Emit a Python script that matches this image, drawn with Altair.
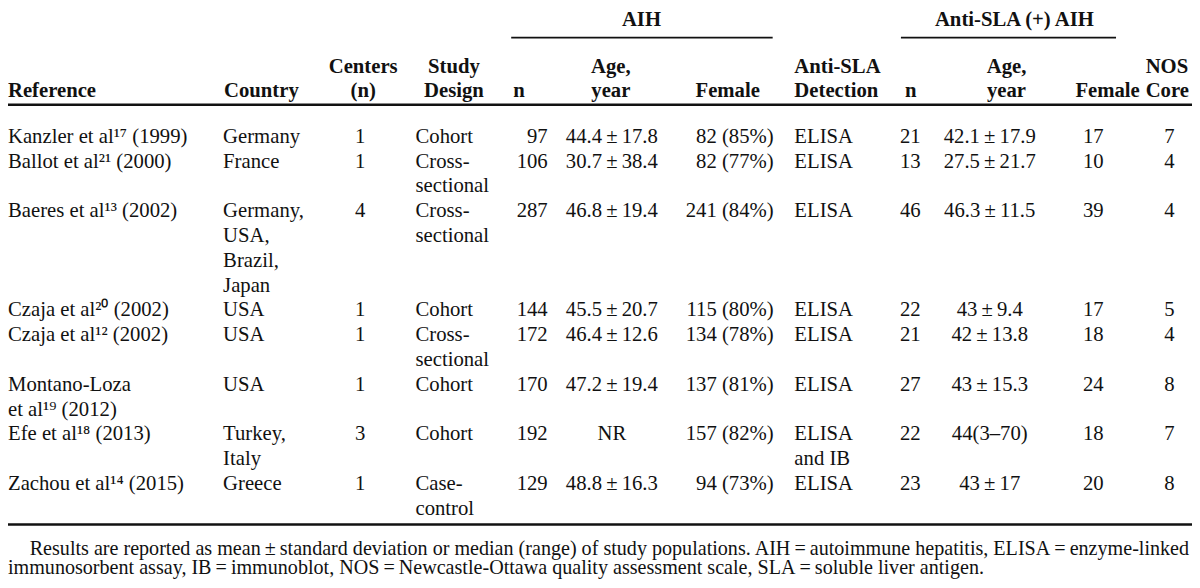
import altair as alt
import pandas as pd

references = [
    "Kanzler et al\u00b9\u2077 (1999)",
    "Ballot et al\u00b2\u00b9 (2000)",
    "Baeres et al\u00b9\u00b3 (2002)",
    "Czaja et al\u00b2\u2070 (2002)",
    "Czaja et al\u00b9\u00b2 (2002)",
    "Montano-Loza\net al\u00b9\u2079 (2012)",
    "Efe et al\u00b9\u2078 (2013)",
    "Zachou et al\u00b9\u2074 (2015)",
]
countries = ["Germany", "France", "Germany,\nUSA,\nBrazil,\nJapan", "USA", "USA",
             "USA", "Turkey,\nItaly", "Greece"]
centers = ["1", "1", "4", "1", "1", "1", "3", "1"]
designs = ["Cohort", "Cross-\nsectional", "Cross-\nsectional", "Cohort",
           "Cross-\nsectional", "Cohort", "Cohort", "Case-\ncontrol"]
aih_n = ["97", "106", "287", "144", "172", "170", "192", "129"]
aih_age = ["44.4\u2009\u00b1\u200917.8", "30.7\u2009\u00b1\u200938.4", "46.8\u2009\u00b1\u200919.4",
           "45.5\u2009\u00b1\u200920.7", "46.4\u2009\u00b1\u200912.6", "47.2\u2009\u00b1\u200919.4",
           "NR", "48.8\u2009\u00b1\u200916.3"]
aih_female = ["82 (85%)", "82 (77%)", "241 (84%)", "115 (80%)", "134 (78%)",
              "137 (81%)", "157 (82%)", "94 (73%)"]
detection = ["ELISA", "ELISA", "ELISA", "ELISA", "ELISA", "ELISA", "ELISA\nand IB", "ELISA"]
sla_n = ["21", "13", "46", "22", "21", "27", "22", "23"]
sla_age = ["42.1\u2009\u00b1\u200917.9", "27.5\u2009\u00b1\u200921.7", "46.3\u2009\u00b1\u200911.5",
           "43\u2009\u00b1\u20099.4", "42\u2009\u00b1\u200913.8", "43\u2009\u00b1\u200915.3",
           "44(3\u201370)", "43\u2009\u00b1\u200917"]
sla_female = ["17", "10", "39", "17", "18", "24", "18", "20"]
nos_core = ["7", "4", "4", "5", "4", "8", "7", "8"]

header_labels = ["\nReference", "\nCountry", "Centers\n(n)", "Study\nDesign", "\nn",
                 "Age,\nyear", "\nFemale", "Anti-SLA\nDetection", "\nn", "Age,\nyear",
                 "\nFemale", "NOS\nCore"]
spanner_labels = ["AIH", "Anti-SLA (+) AIH"]

footnote_lines = [
    "Results are reported as mean\u2009\u00b1\u2009standard deviation or median (range) of study "
    "populations. AIH\u2009=\u2009autoimmune hepatitis, ELISA\u2009=\u2009enzyme-linked",
    "immunosorbent assay, IB\u2009=\u2009immunoblot, NOS\u2009=\u2009Newcastle-Ottawa quality "
    "assessment scale, SLA\u2009=\u2009soluble liver antigen.",
]

# ---------------- layout (reference pixel frame 1200 x 588) ----------------
REF_W, REF_H = 1200, 588
FONT = "Liberation Serif"
FS = 20.7
FS_FOOT = 20.1
PITCH = 25.5
BODY_Y0 = 138.5
HEAD_Y = [66.5, 91.5]
SPAN_Y = 18

body_cols = [  # values, x anchor, align
    (references, 0, "left"),
    (countries, 218, "left"),
    (centers, 357, "center"),
    (designs, 413, "left"),
    (aih_n, 547, "right"),
    (aih_age, 612, "center"),
    (aih_female, 776, "right"),
    (detection, 797, "left"),
    (sla_n, 925, "right"),
    (sla_age, 995, "center"),
    (sla_female, 1100, "center"),
    (nos_core, 1177, "center"),
]
head_pos = [(0, "left"), (219, "left"), (360, "center"), (452, "center"), (518, "center"),
            (611, "center"), (762, "right"), (797, "left"), (915, "center"), (1012, "center"),
            (1147, "right"), (1153, "left")]
span_pos = [642, 1020]

# line index where each study row starts
starts, cur = [], 0
for i in range(len(references)):
    starts.append(cur)
    cur += max(len(str(col[0][i]).split("\n")) for col in body_cols)

body_recs = []
for vals, x, align in body_cols:
    for i, v in enumerate(vals):
        for j, line in enumerate(str(v).split("\n")):
            body_recs.append({"x": x, "y": BODY_Y0 + (starts[i] + j) * PITCH,
                              "text": line, "align": align})
body = pd.DataFrame(body_recs)

head_recs = []
for lab, (x, align) in zip(header_labels, head_pos):
    for j, line in enumerate(lab.split("\n")):
        if line:
            head_recs.append({"x": x, "y": HEAD_Y[j], "text": line, "align": align})
for lab, x in zip(spanner_labels, span_pos):
    head_recs.append({"x": x, "y": SPAN_Y, "text": lab, "align": "center"})
head = pd.DataFrame(head_recs)

foot = pd.DataFrame({"x": [22, 0], "y": [562, 582], "text": footnote_lines})

thin_rules = pd.DataFrame({"x": [510, 905], "x2": [775, 1123], "y": [30.5, 30.5]})
thick_rules = pd.DataFrame({"x": [0, 0], "x2": [1200, 1200], "y": [99.5, 531]})

xs = alt.Scale(domain=[0, REF_W], nice=False, zero=False)
ys = alt.Scale(domain=[0, REF_H], reverse=True, nice=False, zero=False)
X = alt.X("x:Q", scale=xs, axis=None)
Y = alt.Y("y:Q", scale=ys, axis=None)

layers = []
for align in ["left", "center", "right"]:
    d = body[body["align"] == align]
    layers.append(alt.Chart(d).mark_text(align=align, baseline="alphabetic", font=FONT,
                                         fontSize=FS, color="#111111")
                  .encode(x=X, y=Y, text="text:N"))
    h = head[head["align"] == align]
    if len(h):
        layers.append(alt.Chart(h).mark_text(align=align, baseline="alphabetic", font=FONT,
                                             fontSize=FS, fontWeight="bold", color="#111111")
                      .encode(x=X, y=Y, text="text:N"))
layers.append(alt.Chart(foot).mark_text(align="left", baseline="alphabetic", font=FONT,
                                        fontSize=FS_FOOT, color="#111111")
              .encode(x=X, y=Y, text="text:N"))
layers.append(alt.Chart(thin_rules).mark_rule(color="#111111", strokeWidth=1.6)
              .encode(x=X, x2="x2:Q", y=Y))
layers.append(alt.Chart(thick_rules).mark_rule(color="#111111", strokeWidth=2.6)
              .encode(x=X, x2="x2:Q", y=Y))

chart = (alt.layer(*layers)
         .properties(width=1184, height=572, padding=0, autosize="none",
                     background="white")
         .configure_view(stroke=None))

chart.save("out.html", embed_options={"renderer": "svg", "actions": False})
